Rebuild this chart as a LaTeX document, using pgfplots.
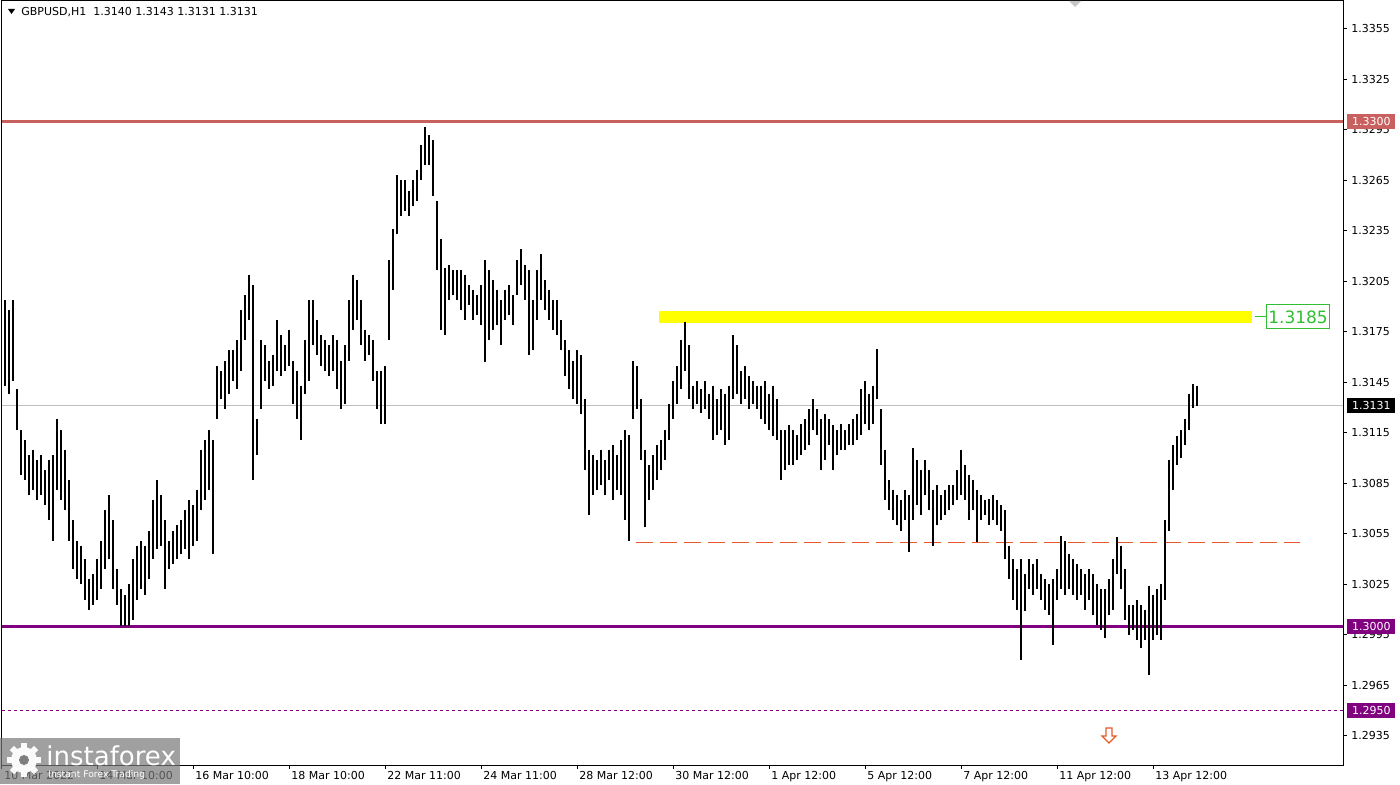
\documentclass[border=0pt]{standalone}
\usepackage{pgfplots}
\pgfplotsset{compat=1.18}
\usepackage{pgfplotstable}
\usepackage{fontspec}
\setmainfont{DejaVu Sans}
\definecolor{resline}{RGB}{200,96,96}
\definecolor{supline}{RGB}{128,0,128}
\definecolor{dashc}{RGB}{230,90,40}
\definecolor{yel}{RGB}{255,255,0}
\definecolor{grn}{RGB}{50,190,50}
\definecolor{curline}{RGB}{192,192,192}
\definecolor{logog}{RGB}{120,120,120}

\pgfplotstableread{
x lo hi
5 1.3143 1.3194
9 1.3138 1.3188
13 1.3146 1.3194
17 1.3117 1.3141
21 1.3090 1.3117
25 1.3087 1.3111
29 1.3078 1.3102
33 1.3081 1.3105
37 1.3075 1.3099
41 1.3078 1.3102
45 1.3072 1.3093
49 1.3063 1.3099
53 1.3051 1.3102
57 1.3081 1.3123
61 1.3075 1.3117
65 1.3069 1.3105
69 1.3051 1.3087
73 1.3034 1.3063
77 1.3028 1.3051
81 1.3025 1.3048
85 1.3016 1.3040
89 1.3010 1.3028
93 1.3013 1.3031
97 1.3016 1.3040
101 1.3022 1.3051
105 1.3034 1.3069
109 1.3040 1.3078
113 1.3022 1.3063
117 1.3013 1.3034
121 1.3000 1.3022
125 1.3000 1.3019
129 1.3000 1.3025
133 1.3004 1.3040
137 1.3016 1.3048
141 1.3022 1.3051
145 1.3019 1.3048
149 1.3028 1.3057
153 1.3040 1.3075
157 1.3046 1.3087
161 1.3048 1.3078
165 1.3022 1.3063
169 1.3034 1.3051
173 1.3037 1.3057
177 1.3040 1.3060
181 1.3043 1.3063
185 1.3046 1.3069
189 1.3040 1.3075
193 1.3048 1.3072
197 1.3051 1.3081
201 1.3069 1.3105
205 1.3075 1.3111
209 1.3081 1.3117
213 1.3043 1.3111
217 1.3123 1.3155
221 1.3135 1.3152
225 1.3129 1.3158
229 1.3138 1.3164
233 1.3146 1.3164
237 1.3141 1.3170
241 1.3152 1.3188
245 1.3170 1.3197
249 1.3182 1.3209
253 1.3087 1.3203
257 1.3102 1.3123
261 1.3129 1.3170
265 1.3146 1.3167
269 1.3141 1.3158
273 1.3143 1.3161
277 1.3152 1.3182
281 1.3149 1.3173
285 1.3152 1.3167
289 1.3155 1.3176
293 1.3132 1.3158
297 1.3123 1.3152
301 1.3111 1.3143
305 1.3138 1.3170
309 1.3146 1.3194
313 1.3167 1.3194
317 1.3161 1.3182
321 1.3155 1.3173
325 1.3152 1.3170
329 1.3149 1.3167
333 1.3152 1.3173
337 1.3141 1.3170
341 1.3129 1.3158
345 1.3132 1.3167
349 1.3158 1.3194
353 1.3176 1.3209
357 1.3182 1.3206
361 1.3167 1.3194
365 1.3158 1.3176
369 1.3161 1.3173
373 1.3146 1.3170
377 1.3129 1.3152
381 1.3120 1.3152
385 1.3120 1.3155
389 1.3170 1.3218
393 1.3200 1.3236
397 1.3233 1.3268
401 1.3244 1.3265
405 1.3247 1.3265
409 1.3244 1.3259
413 1.3250 1.3265
417 1.3253 1.3271
421 1.3265 1.3286
425 1.3274 1.3297
429 1.3274 1.3292
433 1.3256 1.3289
437 1.3212 1.3253
441 1.3176 1.3230
445 1.3173 1.3213
449 1.3194 1.3215
453 1.3197 1.3212
457 1.3194 1.3212
461 1.3188 1.3212
465 1.3182 1.3209
469 1.3191 1.3203
473 1.3182 1.3200
477 1.3185 1.3197
481 1.3179 1.3203
485 1.3157 1.3218
489 1.3170 1.3212
493 1.3176 1.3206
497 1.3179 1.3200
501 1.3167 1.3194
505 1.3182 1.3200
509 1.3185 1.3203
513 1.3179 1.3197
517 1.3197 1.3218
521 1.3203 1.3224
525 1.3194 1.3215
529 1.3161 1.3212
533 1.3164 1.3194
537 1.3182 1.3212
541 1.3194 1.3221
545 1.3188 1.3206
549 1.3182 1.3200
553 1.3176 1.3194
557 1.3173 1.3194
561 1.3164 1.3182
565 1.3149 1.3170
569 1.3141 1.3164
573 1.3135 1.3158
577 1.3132 1.3164
581 1.3126 1.3161
585 1.3093 1.3135
589 1.3066 1.3105
593 1.3078 1.3102
597 1.3081 1.3099
601 1.3084 1.3105
605 1.3078 1.3099
609 1.3087 1.3105
613 1.3075 1.3108
617 1.3081 1.3102
621 1.3078 1.3111
625 1.3063 1.3117
629 1.3051 1.3114
633 1.3123 1.3158
637 1.3129 1.3155
641 1.3099 1.3135
645 1.3059 1.3105
649 1.3075 1.3096
653 1.3081 1.3102
657 1.3087 1.3108
661 1.3093 1.3111
665 1.3099 1.3117
669 1.3111 1.3132
673 1.3123 1.3146
677 1.3132 1.3155
681 1.3141 1.3170
685 1.3152 1.3181
689 1.3135 1.3167
693 1.3129 1.3143
697 1.3132 1.3146
701 1.3127 1.3141
705 1.3129 1.3146
709 1.3123 1.3138
713 1.3111 1.3143
717 1.3114 1.3135
721 1.3117 1.3141
725 1.3108 1.3138
729 1.3111 1.3143
733 1.3135 1.3173
737 1.3138 1.3167
741 1.3132 1.3152
745 1.3135 1.3155
749 1.3129 1.3149
753 1.3132 1.3146
757 1.3129 1.3143
761 1.3123 1.3143
765 1.3120 1.3146
769 1.3117 1.3138
773 1.3113 1.3143
777 1.3111 1.3135
781 1.3087 1.3117
785 1.3093 1.3117
789 1.3096 1.3120
793 1.3096 1.3117
797 1.3099 1.3114
801 1.3102 1.3120
805 1.3105 1.3123
809 1.3108 1.3129
813 1.3117 1.3135
817 1.3114 1.3129
821 1.3093 1.3123
825 1.3099 1.3126
829 1.3108 1.3123
833 1.3093 1.3120
837 1.3102 1.3117
841 1.3105 1.3120
845 1.3105 1.3117
849 1.3108 1.3120
853 1.3108 1.3123
857 1.3111 1.3126
861 1.3114 1.3141
865 1.3120 1.3146
869 1.3117 1.3138
873 1.3120 1.3143
877 1.3135 1.3165
881 1.3096 1.3129
885 1.3075 1.3105
889 1.3069 1.3087
893 1.3063 1.3081
897 1.3060 1.3078
901 1.3057 1.3075
905 1.3063 1.3081
909 1.3044 1.3078
913 1.3063 1.3106
917 1.3072 1.3099
921 1.3066 1.3093
925 1.3078 1.3099
929 1.3069 1.3093
933 1.3048 1.3081
937 1.3060 1.3084
941 1.3063 1.3078
945 1.3066 1.3081
949 1.3069 1.3084
953 1.3072 1.3084
957 1.3075 1.3093
961 1.3078 1.3105
965 1.3075 1.3096
969 1.3063 1.3090
973 1.3069 1.3087
977 1.3050 1.3081
981 1.3063 1.3078
985 1.3066 1.3075
989 1.3060 1.3076
993 1.3063 1.3078
997 1.3060 1.3075
1001 1.3057 1.3072
1005 1.3040 1.3069
1009 1.3028 1.3048
1013 1.3016 1.3040
1017 1.3010 1.3034
1021 1.2980 1.3040
1025 1.3009 1.3031
1029 1.3022 1.3040
1033 1.3019 1.3037
1037 1.3022 1.3040
1041 1.3016 1.3031
1045 1.3010 1.3028
1049 1.3007 1.3025
1053 1.2989 1.3028
1057 1.3016 1.3034
1061 1.3022 1.3054
1065 1.3019 1.3051
1069 1.3022 1.3043
1073 1.3019 1.3040
1077 1.3016 1.3037
1081 1.3019 1.3034
1085 1.3010 1.3031
1089 1.3016 1.3034
1093 1.3007 1.3031
1097 1.3001 1.3025
1101 1.2998 1.3022
1105 1.2993 1.3022
1109 1.3007 1.3028
1113 1.3010 1.3040
1117 1.3031 1.3053
1121 1.3022 1.3048
1125 1.3004 1.3034
1129 1.2995 1.3013
1133 1.2998 1.3013
1137 1.2992 1.3016
1141 1.2987 1.3013
1145 1.2992 1.3010
1149 1.2971 1.3024
1153 1.2992 1.3019
1157 1.2995 1.3022
1161 1.2992 1.3025
1165 1.3016 1.3063
1169 1.3057 1.3099
1173 1.3081 1.3108
1177 1.3096 1.3113
1181 1.3100 1.3117
1185 1.3108 1.3123
1189 1.3117 1.3138
1193 1.3130 1.3144
1197 1.3131 1.3143
}\bars

\begin{document}
\begin{tikzpicture}
\path[use as bounding box] (0,0) rectangle (700pt,392pt);
\fill[white] (0,0) rectangle (700pt,392pt);
\begin{axis}[
  at={(1pt,9.5pt)}, anchor=south west,
  scale only axis, width=670.5pt, height=382pt,
  xmin=2, xmax=1343, ymin=1.29177, ymax=1.33716,
  axis line style={line width=0.5pt, black},
  xtick={2,97,193,289,385,481,577,673,769,865,961,1057,1153},
  xticklabels={10 Mar 2022,14 Mar 10:00,16 Mar 10:00,18 Mar 10:00,22 Mar 11:00,24 Mar 11:00,28 Mar 12:00,30 Mar 12:00,1 Apr 12:00,5 Apr 12:00,7 Apr 12:00,11 Apr 12:00,13 Apr 12:00},
  ytick={1.2935,1.2965,1.2995,1.3025,1.3055,1.3085,1.3115,1.3145,1.3175,1.3205,1.3235,1.3265,1.3295,1.3325,1.3355},
  xtick pos=lower, ytick pos=right, yticklabel pos=right,
  tick align=outside, major tick length=2pt,
  tick style={black, line width=0.5pt},
  scaled y ticks=false,
  ticklabel style={font=\fontsize{5.5}{6.5}\selectfont, text=black},
  xticklabel style={anchor=north west, inner sep=0pt, xshift=1pt, yshift=-1pt},
  yticklabel style={anchor=west, inner sep=0pt, xshift=2pt,
    /pgf/number format/fixed, /pgf/number format/fixed zerofill,
    /pgf/number format/precision=4, /pgf/number format/assume math mode=true},
]
\addplot[curline, line width=0.5pt] coordinates {(2,1.3131) (1343,1.3131)};
\addplot[resline, line width=1.2pt] coordinates {(2,1.3300) (1343,1.3300)};
\addplot[supline, line width=1.5pt] coordinates {(2,1.3000) (1343,1.3000)};
\addplot[supline, line width=0.5pt, dash pattern=on 1.5pt off 1.5pt] coordinates {(2,1.2950) (1343,1.2950)};
\addplot[dashc, line width=0.5pt, dash pattern=on 8.5pt off 3.5pt] coordinates {(636,1.3050) (1300,1.3050)};
\addplot[yel, line width=6pt] coordinates {(659,1.31839) (1252,1.31839)};
\addplot[grn, line width=0.5pt] coordinates {(1255,1.31839) (1266,1.31839)};
\addplot[draw=none, no markers,
  error bars/.cd, y dir=plus, y explicit, error mark=none,
  error bar style={draw=black, line width=0.8pt}]
  table[x=x, y=lo, y error expr=\thisrow{hi}-\thisrow{lo}] {\bars};
\coordinate (r1) at (axis cs:1343,1.3300);
\coordinate (r2) at (axis cs:1343,1.3131);
\coordinate (r3) at (axis cs:1343,1.3000);
\coordinate (r4) at (axis cs:1343,1.2950);
\coordinate (g1) at (axis cs:1266,1.31839);
\end{axis}
\tikzset{lbl/.style={anchor=west, inner sep=0pt, minimum width=24pt, minimum height=7.5pt, text=white, font=\fontsize{5.5}{6}\selectfont, xshift=2pt}}
\node[lbl, fill=resline] at (r1) {1.3300};
\node[lbl, fill=black] at (r2) {1.3131};
\node[lbl, fill=supline] at (r3) {1.3000};
\node[lbl, fill=supline] at (r4) {1.2950};
\node[anchor=west, draw=grn, line width=0.5pt, fill=white, text=grn, inner sep=0.9pt, minimum height=12pt, font=\fontsize{8.5}{9}\selectfont] at (g1) {1.3185};
\begin{scope}[x=0.5pt, y=-0.5pt, shift={(0pt,392pt)}]
  \fill[black] (8,9) -- (15,9) -- (11.5,14) -- cycle;
  \node[anchor=west, inner sep=0pt, font=\fontsize{5.5}{6.5}\selectfont] at (21,12) {GBPUSD,H1\ \ 1.3140 1.3143 1.3131 1.3131};
  \fill[gray!45] (1069,1) -- (1081,1) -- (1075,7) -- cycle;
  \draw[dashc, line width=0.6pt, fill=white] (1106,728) -- (1112,728) -- (1112,736) -- (1116,736) -- (1109,743) -- (1102,736) -- (1106,736) -- cycle;
  \fill[logog, opacity=0.7] (0,738) rectangle (180,784);
  \begin{scope}[opacity=0.95]
  \fill[white] (24,760) circle (13);
  \foreach \a in {0,45,...,315} {\fill[white, rotate around={\a:(24,760)}] (21,743) rectangle (27,749);}
  \fill[logog] (24,760) circle (5);
  \end{scope}
  \node[anchor=west, inner sep=0pt, text=white, font=\fontsize{13}{13}\selectfont] at (46,756) {instaforex};
  \node[anchor=west, inner sep=0pt, text=white, font=\fontsize{4.6}{5}\selectfont] at (48,775) {Instant Forex Trading};
\end{scope}
\end{tikzpicture}
\end{document}
